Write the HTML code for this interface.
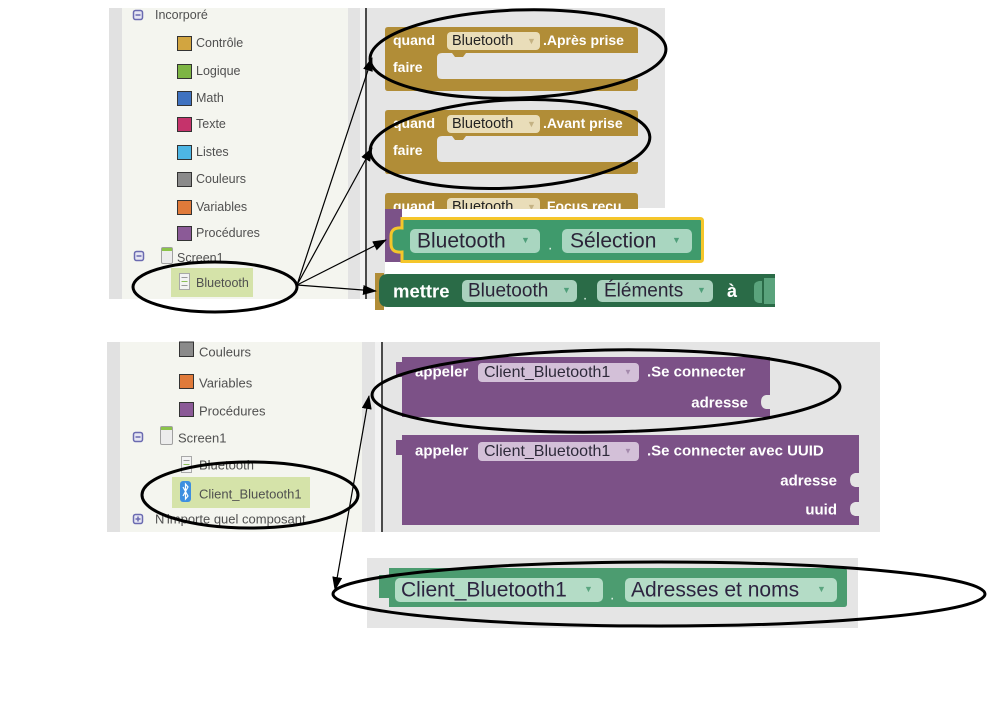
<!DOCTYPE html>
<html><head><meta charset="utf-8">
<style>
*{margin:0;padding:0;box-sizing:border-box}
html,body{width:1006px;height:711px;background:#fff;overflow:hidden}
svg{position:absolute;left:0;top:0;font-family:"Liberation Sans",Arial,sans-serif}
</style></head><body>
<svg width="1006" height="711" viewBox="0 0 1006 711" xmlns="http://www.w3.org/2000/svg">
<defs>
<marker id="ah" markerWidth="14" markerHeight="10" refX="13" refY="5" orient="auto-start-reverse" markerUnits="userSpaceOnUse"><path d="M0,0 L14,5 L0,10 z" fill="#000"/></marker>
<clipPath id="c3"><rect x="380" y="190" width="270" height="19"/></clipPath>
</defs>

<!-- ============ TOP PANEL ============ -->
<rect x="109" y="8" width="13" height="291" fill="#e1e1e1"/>
<rect x="122" y="8" width="226" height="291" fill="#f4f5ef"/>
<rect x="348" y="8" width="12" height="291" fill="#e3e3e3"/>
<rect x="360" y="8" width="5" height="291" fill="#f2f2f2"/>
<rect x="365" y="8" width="2" height="291" fill="#4a4a4a"/>
<rect x="367" y="8" width="298" height="200" fill="#e5e5e5"/>
<rect x="367" y="208" width="18" height="91" fill="#e5e5e5"/>

<!-- tree -->
<g font-size="12.5" fill="#505050">
<rect x="133.5" y="10.5" width="9" height="9" rx="2" fill="#e6e6f3" stroke="#6a6ab0" stroke-width="1.5"/>
<line x1="135.5" y1="15" x2="140.5" y2="15" stroke="#6a6ab0" stroke-width="1.5"/>
<text x="155" y="15" dominant-baseline="central">Incorporé</text>

<rect x="177.5" y="36.5" width="14" height="14" fill="#d2a540" stroke="#333"/>
<text x="196" y="43" dominant-baseline="central">Contrôle</text>
<rect x="177.5" y="64.5" width="14" height="14" fill="#7db544" stroke="#333"/>
<text x="196" y="71" dominant-baseline="central">Logique</text>
<rect x="177.5" y="91.5" width="14" height="14" fill="#3f72c0" stroke="#333"/>
<text x="196" y="98" dominant-baseline="central">Math</text>
<rect x="177.5" y="117.5" width="14" height="14" fill="#c5336b" stroke="#333"/>
<text x="196" y="124" dominant-baseline="central">Texte</text>
<rect x="177.5" y="145.5" width="14" height="14" fill="#4db6e4" stroke="#333"/>
<text x="196" y="152" dominant-baseline="central">Listes</text>
<rect x="177.5" y="172.5" width="14" height="14" fill="#8a8a8a" stroke="#333"/>
<text x="196" y="179" dominant-baseline="central">Couleurs</text>
<rect x="177.5" y="200.5" width="14" height="14" fill="#e07a3a" stroke="#333"/>
<text x="196" y="207" dominant-baseline="central">Variables</text>
<rect x="177.5" y="226.5" width="14" height="14" fill="#8b5a97" stroke="#333"/>
<text x="196" y="233" dominant-baseline="central">Procédures</text>

<rect x="134.5" y="251.5" width="9" height="9" rx="2" fill="#e6e6f3" stroke="#6a6ab0" stroke-width="1.5"/>
<line x1="136.5" y1="256" x2="141.5" y2="256" stroke="#6a6ab0" stroke-width="1.5"/>
<rect x="161.5" y="247.5" width="11" height="16" rx="1.5" fill="#ececec" stroke="#a0a0a0"/>
<rect x="162" y="248" width="10" height="3" fill="#8bc34a"/>
<text x="177" y="258" dominant-baseline="central">Screen1</text>

<rect x="171" y="268" width="82" height="29" fill="#d5e3a9"/>
<rect x="179.5" y="273.5" width="10" height="16" fill="#f3f3f3" stroke="#a8a8a8"/>
<line x1="181.5" y1="277.5" x2="187.5" y2="277.5" stroke="#9a9a9a"/>
<line x1="181.5" y1="281.5" x2="187.5" y2="281.5" stroke="#8cbf5a"/>
<line x1="181.5" y1="285.5" x2="187.5" y2="285.5" stroke="#9a9a9a"/>
<text x="196" y="283" dominant-baseline="central">Bluetooth</text>
</g>

<!-- gold block 1 -->
<g fill="#b18d37">
<path d="M388,27 H635 q3,0 3,3 V53 H466 l-3,4 h-8 l-3,-4 H442 q-5,0 -5,5 V74 q0,5 5,5 H638 V88 q0,3 -3,3 H388 q-3,0 -3,-3 V30 q0,-3 3,-3 Z"/>
<path d="M388,110 H635 q3,0 3,3 V136 H466 l-3,4 h-8 l-3,-4 H442 q-5,0 -5,5 V157 q0,5 5,5 H638 V171 q0,3 -3,3 H388 q-3,0 -3,-3 V113 q0,-3 3,-3 Z"/>
<path d="M388,193 H635 q3,0 3,3 V209 H385 V196 q0,-3 3,-3 Z"/>
</g>
<g font-size="14">
<rect x="447" y="32" width="93" height="18" rx="4" fill="#e9ddb9"/>
<text x="452" y="41" dominant-baseline="central" fill="#222" font-size="14.5">Bluetooth</text>
<text x="527" y="41" dominant-baseline="central" fill="#c4b283" font-size="9">▼</text>
<text x="393" y="40" dominant-baseline="central" fill="#fff" font-weight="bold">quand</text>
<text x="543" y="40" dominant-baseline="central" fill="#fff" font-weight="bold">.Après prise</text>
<text x="393" y="67" dominant-baseline="central" fill="#fff" font-weight="bold">faire</text>

<rect x="447" y="115" width="93" height="18" rx="4" fill="#e9ddb9"/>
<text x="452" y="124" dominant-baseline="central" fill="#222" font-size="14.5">Bluetooth</text>
<text x="527" y="124" dominant-baseline="central" fill="#c4b283" font-size="9">▼</text>
<text x="393" y="123" dominant-baseline="central" fill="#fff" font-weight="bold">quand</text>
<text x="543" y="123" dominant-baseline="central" fill="#fff" font-weight="bold">.Avant prise</text>
<text x="393" y="150" dominant-baseline="central" fill="#fff" font-weight="bold">faire</text>

<g clip-path="url(#c3)">
<rect x="447" y="198" width="93" height="18" rx="4" fill="#e9ddb9"/>
<text x="452" y="207" dominant-baseline="central" fill="#222" font-size="14.5">Bluetooth</text>
<text x="527" y="207" dominant-baseline="central" fill="#c4b283" font-size="9">▼</text>
<text x="393" y="206" dominant-baseline="central" fill="#fff" font-weight="bold">quand</text>
<text x="543" y="206" dominant-baseline="central" fill="#fff" font-weight="bold">.Focus reçu</text>
</g>
</g>

<!-- Sélection block -->
<rect x="385" y="209" width="17" height="53" fill="#7b5288"/>
<path d="M402,218.5 H700 q2.5,0 2.5,2.5 V259 q0,2.5 -2.5,2.5 H402 V252 q-11,1 -11,-8 V236 q0,-9 11,-8 Z" fill="#3f9a6c" stroke="#f5c62a" stroke-width="3"/>
<rect x="410" y="229" width="130" height="24" rx="5" fill="#a9d6c0"/>
<text x="417" y="241" dominant-baseline="central" fill="#2b2438" font-size="21">Bluetooth</text>
<text x="521" y="240" dominant-baseline="central" fill="#4f9f7a" font-size="9">▼</text>
<text x="548" y="245" dominant-baseline="central" fill="#d8efe2" font-size="16">.</text>
<rect x="562" y="229" width="130" height="24" rx="5" fill="#a9d6c0"/>
<text x="570" y="241" dominant-baseline="central" fill="#2b2438" font-size="21">Sélection</text>
<text x="672" y="240" dominant-baseline="central" fill="#4f9f7a" font-size="9">▼</text>

<!-- mettre block -->
<rect x="375" y="273" width="9" height="37" fill="#b18d37"/>
<path d="M388,274 H775 V307 H388 q-9,0 -9,-9 V283 q0,-9 9,-9 Z" fill="#2a6b47"/>
<path d="M764,278 H775 V304 H764 Z" fill="#5aa37c"/>
<path d="M759,281 q-5,1 -5,5 v12 q0,4 5,5 h3 v-22 Z" fill="#5aa37c"/>
<text x="393" y="291" dominant-baseline="central" fill="#fff" font-size="18.5" font-weight="bold">mettre</text>
<rect x="462" y="280" width="115" height="22" rx="5" fill="#a9d1bd"/>
<text x="468" y="291" dominant-baseline="central" fill="#2b2438" font-size="19">Bluetooth</text>
<text x="562" y="290" dominant-baseline="central" fill="#4f9f7a" font-size="9">▼</text>
<text x="583" y="295" dominant-baseline="central" fill="#d8efe2" font-size="15">.</text>
<rect x="597" y="280" width="116" height="22" rx="5" fill="#a9d1bd"/>
<text x="604" y="291" dominant-baseline="central" fill="#2b2438" font-size="19">Éléments</text>
<text x="697" y="290" dominant-baseline="central" fill="#4f9f7a" font-size="9">▼</text>
<text x="727" y="291" dominant-baseline="central" fill="#fff" font-size="18" font-weight="bold">à</text>

<!-- ============ SECOND PANEL ============ -->
<rect x="107" y="342" width="13" height="190" fill="#e1e1e1"/>
<rect x="120" y="342" width="242" height="190" fill="#f4f5ef"/>
<rect x="362" y="342" width="13" height="190" fill="#e3e3e3"/>
<rect x="375" y="342" width="6" height="190" fill="#f2f2f2"/>
<rect x="381" y="342" width="2" height="190" fill="#4a4a4a"/>
<rect x="383" y="342" width="497" height="190" fill="#e5e5e5"/>

<g font-size="13" fill="#505050">
<rect x="179.5" y="342" width="14" height="14.5" fill="#8a8a8a" stroke="#333"/>
<text x="199" y="352" dominant-baseline="central">Couleurs</text>
<rect x="179.5" y="374.5" width="14" height="14" fill="#e07a3a" stroke="#333"/>
<text x="199" y="383" dominant-baseline="central">Variables</text>
<rect x="179.5" y="402.5" width="14" height="14" fill="#8b5a97" stroke="#333"/>
<text x="199" y="411" dominant-baseline="central">Procédures</text>

<rect x="133.5" y="432.5" width="9" height="9" rx="2" fill="#e6e6f3" stroke="#6a6ab0" stroke-width="1.5"/>
<line x1="135.5" y1="437" x2="140.5" y2="437" stroke="#6a6ab0" stroke-width="1.5"/>
<rect x="160.5" y="426.5" width="12" height="18" rx="1.5" fill="#ececec" stroke="#a0a0a0"/>
<rect x="161" y="427" width="11" height="3" fill="#8bc34a"/>
<text x="178" y="438" dominant-baseline="central">Screen1</text>

<rect x="181.5" y="456.5" width="10" height="16" fill="#f3f3f3" stroke="#a8a8a8"/>
<line x1="183.5" y1="460.5" x2="189.5" y2="460.5" stroke="#9a9a9a"/>
<line x1="183.5" y1="464.5" x2="189.5" y2="464.5" stroke="#8cbf5a"/>
<text x="199" y="465" dominant-baseline="central">Bluetooth</text>

<rect x="172" y="477" width="138" height="31" fill="#d5e3a9"/>
<rect x="180" y="481" width="11" height="21" rx="3" fill="#3d8fe0"/>
<path d="M183,487 L188,496 L185.5,499 V484 L188,487 L183,496" fill="none" stroke="#fff" stroke-width="1.2"/>
<text x="199" y="494" dominant-baseline="central">Client_Bluetooth1</text>

<rect x="133.5" y="514.5" width="9" height="9" rx="2" fill="#e6e6f3" stroke="#6a6ab0" stroke-width="1.5"/>
<line x1="135.5" y1="519" x2="140.5" y2="519" stroke="#6a6ab0" stroke-width="1.5"/>
<line x1="138" y1="516.5" x2="138" y2="521.5" stroke="#6a6ab0" stroke-width="1.5"/>
<text x="155" y="519" dominant-baseline="central">N'importe quel composant</text>
</g>

<!-- purple blocks -->
<g fill="#7c5187">
<path d="M402,357 H770 V395 H766 q-5,1 -5,7 q0,6 5,7 H770 V417 H402 V377 H396 V362 H402 Z"/>
<path d="M402,435 H859 V473 H855 q-5,1 -5,7 q0,6 5,7 H859 V502 H855 q-5,1 -5,7 q0,6 5,7 H859 V525 H402 V455 H396 V440 H402 Z"/>
</g>
<g font-size="15">
<text x="415" y="372" dominant-baseline="central" fill="#fff" font-weight="bold">appeler</text>
<rect x="478" y="363" width="161" height="19" rx="4" fill="#d3c0d8"/>
<text x="484" y="372.5" dominant-baseline="central" fill="#2e2a3a" font-size="16">Client_Bluetooth1</text>
<text x="624" y="372" dominant-baseline="central" fill="#a48aac" font-size="8">▼</text>
<text x="647" y="372" dominant-baseline="central" fill="#fff" font-weight="bold">.Se connecter</text>
<text x="748" y="403" dominant-baseline="central" fill="#fff" font-weight="bold" text-anchor="end">adresse</text>

<text x="415" y="451" dominant-baseline="central" fill="#fff" font-weight="bold">appeler</text>
<rect x="478" y="442" width="161" height="19" rx="4" fill="#d3c0d8"/>
<text x="484" y="451.5" dominant-baseline="central" fill="#2e2a3a" font-size="16">Client_Bluetooth1</text>
<text x="624" y="451" dominant-baseline="central" fill="#a48aac" font-size="8">▼</text>
<text x="647" y="451" dominant-baseline="central" fill="#fff" font-weight="bold">.Se connecter avec UUID</text>
<text x="837" y="481" dominant-baseline="central" fill="#fff" font-weight="bold" text-anchor="end">adresse</text>
<text x="837" y="510" dominant-baseline="central" fill="#fff" font-weight="bold" text-anchor="end">uuid</text>
</g>

<!-- ============ BOTTOM BLOCK ============ -->
<rect x="367" y="558" width="491" height="70" fill="#e5e5e5"/>
<path d="M389,568 H844 q3,0 3,3 V604 q0,3 -3,3 H389 V598 H379 V575 H389 Z" fill="#4c9c70"/>
<rect x="395" y="578" width="208" height="24" rx="5" fill="#b4dcc6"/>
<text x="401" y="590" dominant-baseline="central" fill="#2d2440" font-size="21">Client_Bluetooth1</text>
<text x="584" y="589" dominant-baseline="central" fill="#5aa57f" font-size="9">▼</text>
<text x="610" y="595" dominant-baseline="central" fill="#d8efe2" font-size="16">.</text>
<rect x="625" y="578" width="212" height="24" rx="5" fill="#b4dcc6"/>
<text x="631" y="590" dominant-baseline="central" fill="#2d2440" font-size="21">Adresses et noms</text>
<text x="817" y="589" dominant-baseline="central" fill="#5aa57f" font-size="9">▼</text>

<!-- ============ ELLIPSES & ARROWS ============ -->
<g fill="none" stroke="#000" stroke-width="3">
<ellipse cx="518" cy="54" rx="148" ry="44" transform="rotate(-2 518 54)"/>
<ellipse cx="510" cy="144" rx="140" ry="44" transform="rotate(-3 510 144)"/>
<ellipse cx="215" cy="287" rx="82" ry="25"/>
<ellipse cx="250" cy="495" rx="108" ry="33"/>
<ellipse cx="606" cy="391" rx="234" ry="41" transform="rotate(-1 606 391)"/>
<ellipse cx="659" cy="594" rx="326" ry="32"/>
</g>
<g stroke="#000" stroke-width="1.2" fill="none">
<line x1="297" y1="285" x2="372" y2="58" marker-end="url(#ah)"/>
<line x1="297" y1="285" x2="372" y2="148" marker-end="url(#ah)"/>
<line x1="297" y1="285" x2="386" y2="240" marker-end="url(#ah)"/>
<line x1="297" y1="285" x2="376" y2="291" marker-end="url(#ah)"/>
<line x1="335" y1="590" x2="369" y2="396" marker-start="url(#ah)" marker-end="url(#ah)"/>
</g>
</svg>
</body></html>
